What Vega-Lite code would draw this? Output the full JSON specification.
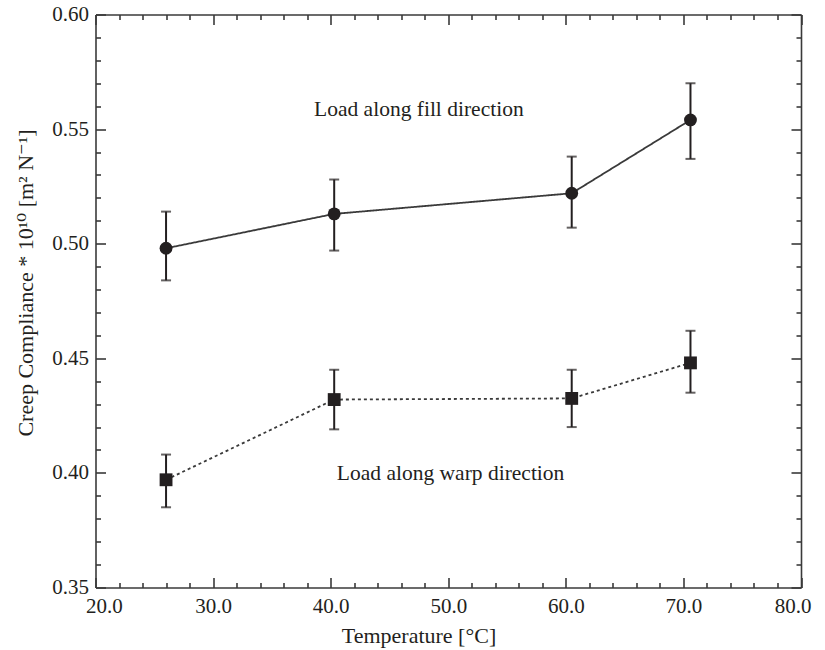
{
  "$schema": "https://vega.github.io/schema/vega-lite/v6.json",
  "width": 705.5,
  "height": 573,
  "autosize": {"type": "none"},
  "padding": {"left": 95.5, "top": 14.5, "right": 24, "bottom": 62.5},
  "background": "white",
  "config": {
    "font": "Liberation Serif",
    "view": {"stroke": null},
    "axis": {
      "grid": false,
      "domainColor": "#3a3a3a",
      "domainWidth": 1.6,
      "tickColor": "#3a3a3a",
      "tickWidth": 1.6,
      "labelFont": "Liberation Serif",
      "labelFontSize": 21,
      "labelColor": "#231f20",
      "titleFont": "Liberation Serif, DejaVu Serif",
      "titleFontSize": 22,
      "titleFontWeight": "normal",
      "titleColor": "#231f20"
    }
  },
  "data": {
    "values": [
      {"temperature": 26, "compliance": 0.498, "low": 0.484, "high": 0.514, "load": "fill"},
      {"temperature": 40.3, "compliance": 0.513, "low": 0.497, "high": 0.528, "load": "fill"},
      {"temperature": 60.5, "compliance": 0.522, "low": 0.507, "high": 0.538, "load": "fill"},
      {"temperature": 70.6, "compliance": 0.554, "low": 0.537, "high": 0.570, "load": "fill"},
      {"temperature": 26, "compliance": 0.397, "low": 0.385, "high": 0.408, "load": "warp"},
      {"temperature": 40.3, "compliance": 0.432, "low": 0.419, "high": 0.445, "load": "warp"},
      {"temperature": 60.5, "compliance": 0.4325, "low": 0.420, "high": 0.445, "load": "warp"},
      {"temperature": 70.6, "compliance": 0.448, "low": 0.435, "high": 0.462, "load": "warp"}
    ]
  },
  "resolve": {"axis": {"x": "independent", "y": "independent"}},
  "layer": [
    {
      "description": "Error bars; carries the labelled bottom and left axes",
      "mark": {
        "type": "errorbar",
        "color": "#231f20",
        "rule": {"strokeWidth": 2},
        "ticks": {"size": 10, "thickness": 2}
      },
      "encoding": {
        "x": {
          "field": "temperature", "type": "quantitative",
          "scale": {"domain": [20, 80], "nice": false, "zero": false},
          "axis": {
            "orient": "bottom",
            "values": [20, 30, 40, 50, 60, 70, 80],
            "format": ".1f",
            "tickSize": -10,
            "labelPadding": 18,
            "labelFlush": true,
            "labelFlushOffset": 10,
            "title": "Temperature [°C]",
            "titleX": 323,
            "titleY": 38
          }
        },
        "y": {
          "field": "low", "type": "quantitative",
          "scale": {"domain": [0.35, 0.6], "nice": false, "zero": false},
          "axis": {
            "orient": "left",
            "values": [0.35, 0.4, 0.45, 0.5, 0.55, 0.6],
            "format": ".2f",
            "tickSize": -10,
            "labelPadding": 17,
            "labelFlush": false,
            "title": "Creep Compliance * 10¹⁰ [m² N⁻¹]",
            "titleX": -58,
            "titleY": 268
          }
        },
        "y2": {"field": "high"}
      }
    },
    {
      "description": "Connecting lines; carries the minor ticks of bottom and left axes",
      "mark": {"type": "line", "color": "#3a3a3a", "strokeWidth": 1.8},
      "encoding": {
        "x": {
          "field": "temperature", "type": "quantitative",
          "scale": {"domain": [20, 80], "nice": false, "zero": false},
          "axis": {
            "orient": "bottom",
            "values": [22, 24, 26, 28, 32, 34, 36, 38, 42, 44, 46, 48, 52, 54, 56, 58, 62, 64, 66, 68, 72, 74, 76, 78],
            "domain": false, "labels": false, "tickSize": -5, "title": null
          }
        },
        "y": {
          "field": "compliance", "type": "quantitative",
          "scale": {"domain": [0.35, 0.6], "nice": false, "zero": false},
          "axis": {
            "orient": "left",
            "values": [0.36, 0.37, 0.38, 0.39, 0.41, 0.42, 0.43, 0.44, 0.46, 0.47, 0.48, 0.49, 0.51, 0.52, 0.53, 0.54, 0.56, 0.57, 0.58, 0.59],
            "domain": false, "labels": false, "tickSize": -5, "title": null
          }
        },
        "strokeDash": {
          "field": "load", "type": "nominal",
          "scale": {"domain": ["fill", "warp"], "range": [[1, 0], [3, 3]]},
          "legend": null
        }
      }
    },
    {
      "description": "Markers; carries the top and right frame with major ticks",
      "mark": {"type": "point", "filled": true, "color": "#231f20", "opacity": 1, "size": 165},
      "encoding": {
        "x": {
          "field": "temperature", "type": "quantitative",
          "scale": {"domain": [20, 80], "nice": false, "zero": false},
          "axis": {
            "orient": "top",
            "values": [20, 30, 40, 50, 60, 70, 80],
            "labels": false, "tickSize": -10, "title": null
          }
        },
        "y": {
          "field": "compliance", "type": "quantitative",
          "scale": {"domain": [0.35, 0.6], "nice": false, "zero": false},
          "axis": {
            "orient": "right",
            "values": [0.35, 0.4, 0.45, 0.5, 0.55, 0.6],
            "labels": false, "tickSize": -10, "title": null
          }
        },
        "shape": {
          "field": "load", "type": "nominal",
          "scale": {"domain": ["fill", "warp"], "range": ["circle", "square"]},
          "legend": null
        }
      }
    },
    {
      "description": "Upper annotation; carries the minor ticks of top and right axes",
      "data": {"values": [{"note": "Load along fill direction"}]},
      "mark": {"type": "text", "font": "Liberation Serif", "fontSize": 21.5, "color": "#231f20"},
      "encoding": {
        "x": {
          "datum": 47.5, "type": "quantitative",
          "scale": {"domain": [20, 80], "nice": false, "zero": false},
          "axis": {
            "orient": "top",
            "values": [22, 24, 26, 28, 32, 34, 36, 38, 42, 44, 46, 48, 52, 54, 56, 58, 62, 64, 66, 68, 72, 74, 76, 78],
            "domain": false, "labels": false, "tickSize": -5, "title": null
          }
        },
        "y": {
          "datum": 0.5585, "type": "quantitative",
          "scale": {"domain": [0.35, 0.6], "nice": false, "zero": false},
          "axis": {
            "orient": "right",
            "values": [0.36, 0.37, 0.38, 0.39, 0.41, 0.42, 0.43, 0.44, 0.46, 0.47, 0.48, 0.49, 0.51, 0.52, 0.53, 0.54, 0.56, 0.57, 0.58, 0.59],
            "domain": false, "labels": false, "tickSize": -5, "title": null
          }
        },
        "text": {"field": "note", "type": "nominal"}
      }
    },
    {
      "description": "Lower annotation",
      "data": {"values": [{"note": "Load along warp direction"}]},
      "mark": {"type": "text", "font": "Liberation Serif", "fontSize": 21.5, "color": "#231f20"},
      "encoding": {
        "x": {
          "datum": 50.2, "type": "quantitative",
          "scale": {"domain": [20, 80], "nice": false, "zero": false},
          "axis": null
        },
        "y": {
          "datum": 0.3995, "type": "quantitative",
          "scale": {"domain": [0.35, 0.6], "nice": false, "zero": false},
          "axis": null
        },
        "text": {"field": "note", "type": "nominal"}
      }
    }
  ]
}
